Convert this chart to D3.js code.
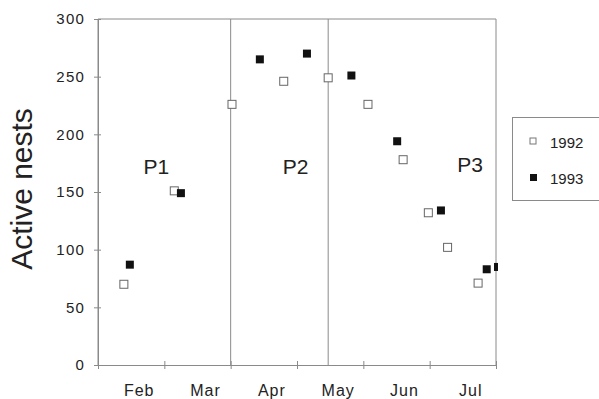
<!DOCTYPE html>
<html>
<head>
<meta charset="utf-8">
<script src="https://cdn.jsdelivr.net/npm/d3@7"></script>
<style>
  body { margin: 0; background: #fff; }
  text { font-family: "Liberation Sans", Arial, sans-serif; fill: #222; }
</style>
</head>
<body>
<script>
// month labels, x is measured in months from 1 Feb
var months = ["Feb", "Mar", "Apr", "May", "Jun", "Jul"];
var yTicks = [0, 50, 100, 150, 200, 250, 300];

// 1992 census (open squares)
var x1992 = [0.39, 1.15, 2.02, 2.80, 3.47, 4.07, 4.60, 4.98, 5.27, 5.73];
var n1992 = [70, 151, 226, 246, 249, 226, 178, 132, 102, 71];

// 1993 census (filled squares)
var x1993 = [0.48, 1.25, 2.44, 3.15, 3.82, 4.51, 5.17, 5.86, 6.03];
var n1993 = [87, 149, 265, 270, 251, 194, 134, 83, 85];

// periods
var periods = ["P1", "P2", "P3"];
var periodX = [0.88, 2.98, 5.61];
var periodY = [166, 166, 167];
var boundaries = [2, 3.47];

// note: "top" is taken by window.top, so use plot* names
var W = 599, H = 399;
var plotL = 98, plotR = 496, plotT = 19, plotB = 365;

var svg = d3.select("body").append("svg")
    .attr("width", W)
    .attr("height", H);

var x = d3.scaleLinear().domain([0, 6]).range([plotL, plotR]);
var y = d3.scaleLinear().domain([0, 300]).range([plotB, plotT]);

var grey = "#8a8a8a";

// frame: left axis, top, right
svg.append("path")
    .attr("d", "M" + plotL + "," + plotB + "V" + plotT + "H" + plotR + "V" + plotB)
    .attr("fill", "none")
    .attr("stroke", grey)
    .attr("stroke-width", 1);

// x axis, ticks on month boundaries
var xAxis = svg.append("g")
    .attr("transform", "translate(0," + plotB + ")")
    .call(d3.axisBottom(x).tickValues(d3.range(0, 7)).tickSizeInner(4).tickSizeOuter(0).tickFormat(""));
xAxis.select(".domain").attr("stroke", grey);
xAxis.selectAll(".tick line").attr("stroke", grey).attr("y1", -4);

// month names between ticks
svg.selectAll("text.month")
    .data(months)
    .enter()
    .append("text")
    .attr("class", "month")
    .attr("x", function(d, i) { return x(i + 0.5) + 8; })
    .attr("y", 396)
    .attr("text-anchor", "middle")
    .attr("font-size", 16)
    .attr("letter-spacing", 1)
    .text(function(d) { return d; });

// y axis
var yAxis = svg.append("g")
    .attr("transform", "translate(" + plotL + ",0)")
    .call(d3.axisLeft(y).tickValues(yTicks).tickSizeInner(4).tickSizeOuter(0).tickPadding(9));
yAxis.select(".domain").attr("stroke", grey);
yAxis.selectAll(".tick line").attr("stroke", grey).attr("x1", 3);
yAxis.selectAll(".tick text")
    .attr("font-size", 15)
    .attr("letter-spacing", 1.2)
    .attr("fill", "#222")
    .attr("font-family", "Liberation Sans, Arial, sans-serif");

// y title
svg.append("text")
    .attr("transform", "translate(32,189) rotate(-90)")
    .attr("text-anchor", "middle")
    .attr("font-size", 30)
    .text("Active nests");

// period dividers
svg.selectAll("line.div")
    .data(boundaries)
    .enter()
    .append("line")
    .attr("class", "div")
    .attr("x1", function(d) { return x(d); })
    .attr("x2", function(d) { return x(d); })
    .attr("y1", plotT)
    .attr("y2", plotB)
    .attr("stroke", grey);

svg.selectAll("text.period")
    .data(periods)
    .enter()
    .append("text")
    .attr("class", "period")
    .attr("x", function(d, i) { return x(periodX[i]); })
    .attr("y", function(d, i) { return y(periodY[i]); })
    .attr("text-anchor", "middle")
    .attr("font-size", 21)
    .text(function(d) { return d; });

// clip so the last point is cut at the right frame
svg.append("clipPath").attr("id", "clip")
    .append("rect").attr("x", 0).attr("y", 0).attr("width", plotR + 2).attr("height", H);

var s = 8;
var pts = svg.append("g").attr("clip-path", "url(#clip)");

pts.selectAll("rect.y92")
    .data(n1992)
    .enter()
    .append("rect")
    .attr("class", "y92")
    .attr("x", function(d, i) { return x(x1992[i]) - s / 2; })
    .attr("y", function(d) { return y(d) - s / 2; })
    .attr("width", s)
    .attr("height", s)
    .attr("fill", "#fff")
    .attr("stroke", "#666")
    .attr("stroke-width", 1);

pts.selectAll("rect.y93")
    .data(n1993)
    .enter()
    .append("rect")
    .attr("class", "y93")
    .attr("x", function(d, i) { return x(x1993[i]) - s / 2; })
    .attr("y", function(d) { return y(d) - s / 2; })
    .attr("width", s)
    .attr("height", s)
    .attr("fill", "#111");

// legend, runs off the right edge like the original
var lg = svg.append("g");
lg.append("rect")
    .attr("x", 512.5).attr("y", 117.5)
    .attr("width", 120).attr("height", 83)
    .attr("fill", "none").attr("stroke", grey);
lg.append("rect")
    .attr("x", 530).attr("y", 138).attr("width", 6).attr("height", 6)
    .attr("fill", "#fff").attr("stroke", "#777");
lg.append("rect")
    .attr("x", 530).attr("y", 174).attr("width", 7).attr("height", 7)
    .attr("fill", "#111");
lg.append("text").attr("x", 550).attr("y", 148).attr("font-size", 15).text("1992");
lg.append("text").attr("x", 550).attr("y", 184).attr("font-size", 15).text("1993");
</script>
</body>
</html>
